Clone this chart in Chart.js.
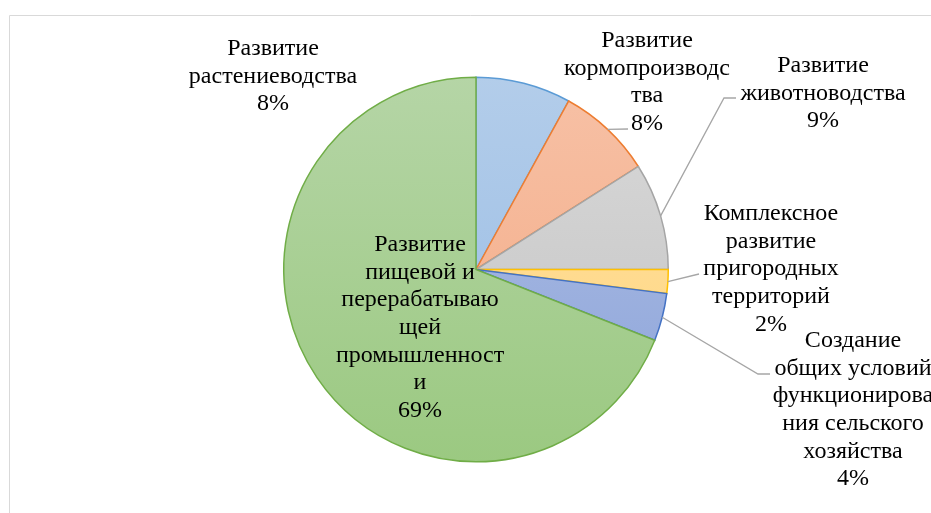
<!DOCTYPE html>
<html lang="ru">
<head>
<meta charset="utf-8">
<script src="https://cdn.jsdelivr.net/npm/chart.js@4.4.1/dist/chart.umd.min.js"></script>
<style>
    html, body { margin: 0; padding: 0; background: #fff; }
    #wrap { position: relative; width: 931px; height: 513px; }
    .probe { font-family: "Liberation Serif"; position: absolute; left: -999px; }
</style>
</head>
<body>
<span class="probe">Развитие</span>
<div id="wrap"><canvas id="pieChart" width="931" height="513"></canvas></div>
<script>
// Данные диаграммы
const categories = [
    'Развитие растениеводства',
    'Развитие кормопроизводства',
    'Развитие животноводства',
    'Комплексное развитие пригородных территорий',
    'Создание общих условий функционирования сельского хозяйства',
    'Развитие пищевой и перерабатывающей промышленности'
];
const shares = [8, 8, 9, 2, 4, 69];

// Переносы строк в подписях (как в исходной диаграмме)
const labelLines = [
    ['Развитие', 'растениеводства'],
    ['Развитие', 'кормопроизводс', 'тва'],
    ['Развитие', 'животноводства'],
    ['Комплексное', 'развитие', 'пригородных', 'территорий'],
    ['Создание', 'общих условий', 'функционирова', 'ния сельского', 'хозяйства'],
    ['Развитие', 'пищевой и', 'перерабатываю', 'щей', 'промышленност', 'и']
];

// Цвета: [верх градиента, низ градиента, обводка]
const sliceColors = [
    ['#b3cdea', '#97bbe4', '#5b9bd5'],
    ['#f7c1a6', '#f3a983', '#ed7d31'],
    ['#d9d9d9', '#c2c2c2', '#a5a5a5'],
    ['#ffe1a0', '#ffd580', '#ffc000'],
    ['#b2c0e4', '#8aa3da', '#4472c4'],
    ['#b5d5a6', '#9bc981', '#70ad47']
];

// Положение подписей: центр по x, центр первой строки по y
const labelPos = [
    [273, 49], [647, 41], [823, 66], [771, 214], [853, 341], [420, 245]
];
// Выноски: промежуточные точки после точки на дуге (null — без выноски)
const leaderPts = [
    null,
    [[628, 129]],
    [[724, 98], [736, 98]],
    [[699, 274]],
    [[758, 374], [770, 374]],
    null
];

const LINE_H = 27.6;
const FONT = '24px "Liberation Serif"';

// Рамка области диаграммы
const framePlugin = {
    id: 'frame',
    beforeDraw(chart) {
        const c = chart.ctx;
        c.save();
        c.strokeStyle = '#d9d9d9';
        c.lineWidth = 1;
        c.beginPath();
        c.moveTo(9.5, 513);
        c.lineTo(9.5, 15.5);
        c.lineTo(931, 15.5);
        c.stroke();
        c.restore();
    }
};

// Подписи и линии выноски
const labelsPlugin = {
    id: 'sliceLabels',
    afterDatasetsDraw(chart) {
        const c = chart.ctx;
        const meta = chart.getDatasetMeta(0);
        const total = shares.reduce((a, b) => a + b, 0);
        c.save();
        meta.data.forEach((arc, i) => {
            const pts = leaderPts[i];
            if (pts) {
                const mid = (arc.startAngle + arc.endAngle) / 2;
                const r = arc.outerRadius;
                c.strokeStyle = '#a6a6a6';
                c.lineWidth = 1.3;
                c.beginPath();
                c.moveTo(arc.x + Math.cos(mid) * r, arc.y + Math.sin(mid) * r);
                pts.forEach(p => c.lineTo(p[0], p[1]));
                c.stroke();
            }
            const lines = labelLines[i].concat([Math.round(shares[i] / total * 100) + '%']);
            c.font = FONT;
            c.fillStyle = '#000';
            c.textAlign = 'center';
            c.textBaseline = 'middle';
            lines.forEach((t, k) => {
                c.fillText(t, labelPos[i][0], labelPos[i][1] + k * LINE_H);
            });
        });
        c.restore();
    }
};

function drawChart() {
    const ctx = document.getElementById('pieChart').getContext('2d');

    new Chart(ctx, {
        type: 'pie',
        data: {
            labels: categories,
            datasets: [{
                data: shares,
                backgroundColor: function(context) {
                    const chart = context.chart;
                    const area = chart.chartArea;
                    const col = sliceColors[context.dataIndex];
                    if (!area) return col[0];
                    const g = chart.ctx.createLinearGradient(0, area.top, 0, area.bottom);
                    g.addColorStop(0, col[0]);
                    g.addColorStop(1, col[1]);
                    return g;
                },
                borderColor: sliceColors.map(c => c[2]),
                borderWidth: 1.5,
                borderJoinStyle: 'miter'
            }]
        },
        options: {
            responsive: false,
            animation: false,
            layout: {
                padding: { left: 283, right: 262, top: 76, bottom: 50 }
            },
            plugins: {
                legend: { display: false },
                tooltip: { enabled: false }
            }
        },
        plugins: [framePlugin, labelsPlugin]
    });
}

document.fonts.load(FONT).then(drawChart, drawChart);
</script>
</body>
</html>
